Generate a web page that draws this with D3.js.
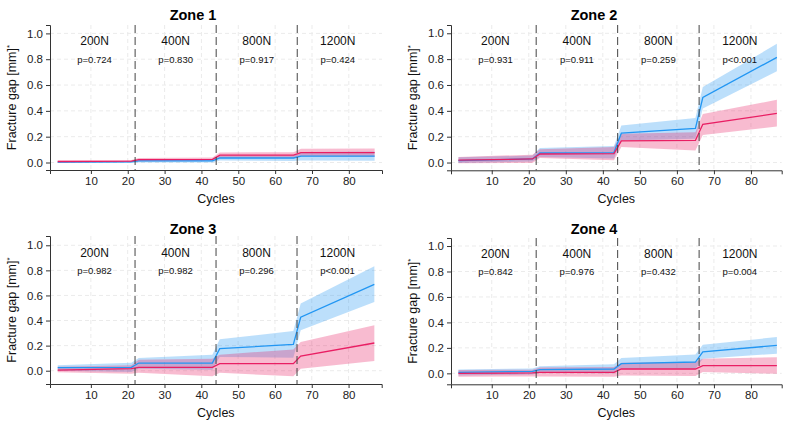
<!DOCTYPE html>
<html><head><meta charset="utf-8">
<script src="https://cdn.jsdelivr.net/npm/d3@7"></script>
<style>
html,body{margin:0;padding:0;background:#fff;}
svg{display:block;font-family:"Liberation Sans",Arial,sans-serif;}
</style></head>
<body><svg id="c" width="789" height="427"></svg>
<script>
// ---- data ----
const cycles = [1, 21, 23, 43, 45, 65, 67, 87];
const xTicks = [10, 20, 30, 40, 50, 60, 70, 80];
const yTicks = [0, 0.2, 0.4, 0.6, 0.8, 1.0];
const loadBreaks = [22, 44, 66];
const loadLabels = ["200N", "400N", "800N", "1200N"];
const loadLabelX = [11, 33, 55, 77];
const zoneTitles = ["Zone 1", "Zone 2", "Zone 3", "Zone 4"];

const pValuesZone1 = ["p=0.724", "p=0.830", "p=0.917", "p=0.424"];
const pValuesZone2 = ["p=0.931", "p=0.911", "p=0.259", "p<0.001"];
const pValuesZone3 = ["p=0.982", "p=0.982", "p=0.296", "p<0.001"];
const pValuesZone4 = ["p=0.842", "p=0.976", "p=0.432", "p=0.004"];

const blueMeanZone1 = [0.003, 0.005, 0.012, 0.013, 0.035, 0.035, 0.050, 0.050];
const blueLoZone1   = [-0.004, -0.002, 0.000, 0.000, 0.015, 0.012, 0.016, 0.013];
const blueHiZone1   = [0.010, 0.012, 0.024, 0.026, 0.055, 0.057, 0.082, 0.085];
const pinkMeanZone1 = [0.008, 0.011, 0.022, 0.025, 0.057, 0.057, 0.077, 0.077];
const pinkLoZone1   = [0.000, 0.003, 0.010, 0.012, 0.035, 0.033, 0.048, 0.045];
const pinkHiZone1   = [0.016, 0.020, 0.035, 0.038, 0.078, 0.080, 0.106, 0.108];

const blueMeanZone2 = [0.015, 0.028, 0.074, 0.077, 0.227, 0.265, 0.503, 0.814];
const blueLoZone2   = [-0.003, 0.008, 0.043, 0.031, 0.171, 0.184, 0.418, 0.707];
const blueHiZone2   = [0.040, 0.054, 0.112, 0.128, 0.286, 0.344, 0.584, 0.918];
const pinkMeanZone2 = [0.018, 0.028, 0.066, 0.069, 0.168, 0.171, 0.296, 0.380];
const pinkLoZone2   = [-0.005, -0.003, 0.036, 0.018, 0.120, 0.094, 0.214, 0.278];
const pinkHiZone2   = [0.043, 0.061, 0.102, 0.120, 0.222, 0.235, 0.375, 0.485];

const blueMeanZone3 = [0.024, 0.027, 0.061, 0.061, 0.176, 0.210, 0.426, 0.689];
const blueLoZone3   = [0.000, -0.010, 0.016, 0.008, 0.109, 0.104, 0.322, 0.548];
const blueHiZone3   = [0.043, 0.064, 0.101, 0.128, 0.250, 0.316, 0.535, 0.832];
const pinkMeanZone3 = [0.005, 0.016, 0.027, 0.027, 0.056, 0.056, 0.117, 0.221];
const pinkLoZone3   = [-0.013, -0.024, -0.016, -0.045, -0.016, -0.045, 0.016, 0.077];
const pinkHiZone3   = [0.032, 0.043, 0.088, 0.096, 0.128, 0.170, 0.229, 0.362];

const blueMeanZone4 = [0.008, 0.016, 0.029, 0.034, 0.076, 0.089, 0.168, 0.220];
const blueLoZone4   = [-0.016, -0.010, 0.005, 0.000, 0.037, 0.037, 0.115, 0.154];
const blueHiZone4   = [0.031, 0.039, 0.055, 0.071, 0.120, 0.149, 0.225, 0.285];
const pinkMeanZone4 = [0.000, 0.003, 0.008, 0.008, 0.034, 0.034, 0.060, 0.060];
const pinkLoZone4   = [-0.026, -0.024, -0.024, -0.026, -0.016, -0.021, 0.010, -0.003];
const pinkHiZone4   = [0.026, 0.029, 0.045, 0.050, 0.084, 0.089, 0.115, 0.126];

const zones = [
  {title: zoneTitles[0], p: pValuesZone1, bm: blueMeanZone1, bl: blueLoZone1, bh: blueHiZone1, pm: pinkMeanZone1, pl: pinkLoZone1, ph: pinkHiZone1},
  {title: zoneTitles[1], p: pValuesZone2, bm: blueMeanZone2, bl: blueLoZone2, bh: blueHiZone2, pm: pinkMeanZone2, pl: pinkLoZone2, ph: pinkHiZone2},
  {title: zoneTitles[2], p: pValuesZone3, bm: blueMeanZone3, bl: blueLoZone3, bh: blueHiZone3, pm: pinkMeanZone3, pl: pinkLoZone3, ph: pinkHiZone3},
  {title: zoneTitles[3], p: pValuesZone4, bm: blueMeanZone4, bl: blueLoZone4, bh: blueHiZone4, pm: pinkMeanZone4, pl: pinkLoZone4, ph: pinkHiZone4}
];

// ---- layout (pixels) ----
const panels = [
  {l: 50,  r: 382,   t: 25,  b: 170,   yd: [-0.058, 1.065], xd: [-1.1, 89.0], tx: 193, ty: 20},
  {l: 451, r: 781.7, t: 25,  b: 170.3, yd: [-0.060, 1.064], xd: [-1.0, 88.3], tx: 594, ty: 20},
  {l: 50,  r: 381.7, t: 236, b: 384,   yd: [-0.106, 1.074], xd: [-1.1, 89.0], tx: 193, ty: 233.5},
  {l: 451, r: 781.7, t: 238, b: 384.3, yd: [-0.086, 1.063], xd: [-1.0, 88.3], tx: 594, ty: 233.5}
];

const BLUE = "#2196F3", PINK = "#E91E63";
const svg = d3.select("#c");

zones.forEach((z, i) => {
  const P = panels[i];
  const x = d3.scaleLinear().domain(P.xd).range([P.l, P.r]);
  const y = d3.scaleLinear().domain(P.yd).range([P.b, P.t]);
  const g = svg.append("g");

  g.selectAll(".gy").data(yTicks).enter().append("line")
    .attr("x1", P.l).attr("x2", P.r).attr("y1", d => y(d)).attr("y2", d => y(d))
    .attr("stroke", "#ebebeb").attr("stroke-width", 1).attr("stroke-dasharray", "4,3");
  g.selectAll(".gx").data(xTicks).enter().append("line")
    .attr("y1", P.t).attr("y2", P.b).attr("x1", d => x(d)).attr("x2", d => x(d))
    .attr("stroke", "#ebebeb").attr("stroke-width", 1).attr("stroke-dasharray", "4,3");

  const pts = k => cycles.map((c, j) => ({c, m: z[k + "m"][j], lo: z[k + "l"][j], hi: z[k + "h"][j]}));
  const area = d3.area().x(d => x(d.c)).y0(d => y(d.lo)).y1(d => y(d.hi));
  const line = d3.line().x(d => x(d.c)).y(d => y(d.m));

  g.append("path").datum(pts("b")).attr("d", area).attr("fill", BLUE).attr("fill-opacity", 0.3);
  g.append("path").datum(pts("p")).attr("d", area).attr("fill", PINK).attr("fill-opacity", 0.3);
  g.append("path").datum(pts("b")).attr("d", line).attr("fill", "none").attr("stroke", BLUE).attr("stroke-width", 1.3);
  g.append("path").datum(pts("p")).attr("d", line).attr("fill", "none").attr("stroke", PINK).attr("stroke-width", 1.3);

  g.selectAll(".vb").data(loadBreaks).enter().append("line")
    .attr("x1", d => x(d)).attr("x2", d => x(d)).attr("y1", P.t).attr("y2", P.b)
    .attr("stroke", "#444").attr("stroke-width", 1).attr("stroke-dasharray", "8,4");

  g.selectAll(".ll").data(loadLabels).enter().append("text")
    .attr("x", (d, j) => x(loadLabelX[j])).attr("y", y(0.94))
    .attr("text-anchor", "middle").attr("dominant-baseline", "central")
    .attr("font-size", "12px").attr("fill", "#111").text(d => d);
  g.selectAll(".pl").data(z.p).enter().append("text")
    .attr("x", (d, j) => x(loadLabelX[j])).attr("y", y(0.80))
    .attr("text-anchor", "middle").attr("dominant-baseline", "central")
    .attr("font-size", "9.5px").attr("fill", "#111").text(d => d);

  const xa = g.append("g").attr("transform", `translate(0,${P.b})`)
    .call(d3.axisBottom(x).tickValues(xTicks).tickSize(4).tickPadding(3).tickFormat(d3.format("d")));
  const ya = g.append("g").attr("transform", `translate(${P.l},0)`)
    .call(d3.axisLeft(y).tickValues(yTicks).tickSize(4).tickPadding(3).tickFormat(d3.format(".1f")));
  [xa, ya].forEach(a => {
    a.select(".domain").attr("stroke", "#333");
    a.selectAll(".tick line").attr("stroke", "#333");
    a.selectAll(".tick text").attr("font-size", "11.5px").attr("fill", "#222")
      .attr("font-family", "Liberation Sans, Arial, sans-serif");
  });

  g.append("text").attr("x", P.tx).attr("y", P.ty).attr("text-anchor", "middle")
    .attr("font-size", "14.5px").attr("font-weight", "bold").attr("fill", "#000").text(z.title);
  g.append("text").attr("x", (P.l + P.r) / 2).attr("y", P.b + 33).attr("text-anchor", "middle")
    .attr("font-size", "12.5px").attr("fill", "#111").text("Cycles");
  const yt = g.append("text")
    .attr("transform", `translate(${P.l - 34},${(P.t + P.b) / 2}) rotate(-90)`)
    .attr("text-anchor", "middle").attr("font-size", "12.5px").attr("fill", "#111");
  yt.append("tspan").text("Fracture gap [mm]");
  yt.append("tspan").attr("font-size", "8px").attr("dy", "-4").text("*");
});
</script></body></html>
